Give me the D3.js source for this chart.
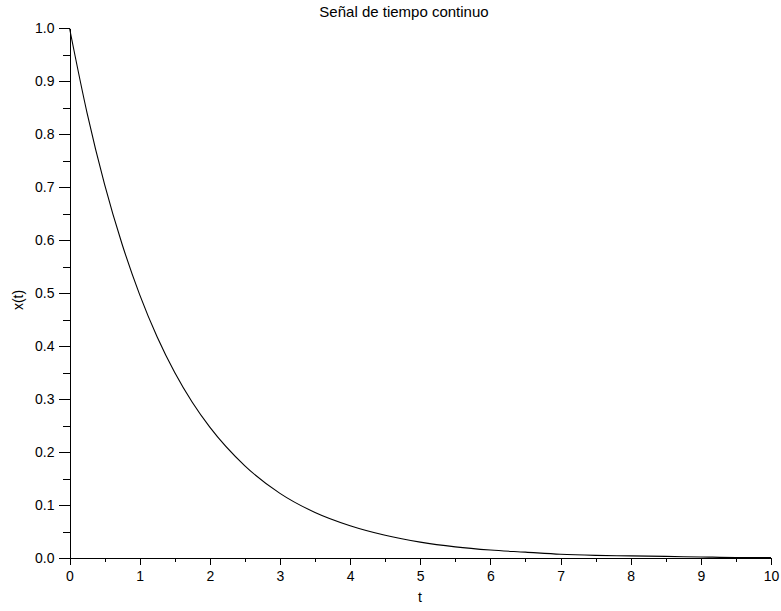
<!DOCTYPE html>
<html lang="es">
<head>
    <meta charset="utf-8">
    <title>Señal de tiempo continuo</title>
    <script type="text/javascript" src="https://d3js.org/d3.v7.min.js"></script>
    <style type="text/css">
        body { margin: 0; background: #fff; }
        text { font-family: "Liberation Sans", Arial, sans-serif; fill: #000; }
        .axis path, .axis line { stroke: #000; shape-rendering: crispEdges; }
        .axis text { font-size: 14px; }
    </style>
</head>
<body>
<script type="text/javascript">
    // values
    var tValues = [0, 0.25, 0.5, 0.75, 1, 1.25, 1.5, 1.75, 2, 2.5, 3, 3.5, 4, 4.5,
        5, 5.5, 6, 6.5, 7, 7.5, 8, 8.5, 9, 9.5, 10];
    var xValues = [1.0, 0.84, 0.705, 0.592, 0.497, 0.417, 0.35, 0.294, 0.247, 0.174,
        0.122, 0.086, 0.061, 0.043, 0.030, 0.021, 0.015, 0.011, 0.007, 0.005,
        0.004, 0.003, 0.002, 0.001, 0.001];
    var xTicks = [0, 1, 2, 3, 4, 5, 6, 7, 8, 9, 10];
    var yTicks = [0, 0.1, 0.2, 0.3, 0.4, 0.5, 0.6, 0.7, 0.8, 0.9, 1.0];

    var w = 781;
    var h = 611;

    var x = d3.scaleLinear().domain([0, 10]).range([69.5, 771]);
    var y = d3.scaleLinear().domain([0, 1]).range([558, 28]);

    var svg = d3.select("body").append("svg")
            .attr("width", w)
            .attr("height", h);

    // minor ticks (halfway between major)
    var xMinor = d3.range(0.5, 10, 1);
    var yMinor = d3.range(0.05, 1, 0.1);

    svg.append("g")
            .attr("class", "axis")
            .attr("transform", "translate(0," + y(0) + ")")
            .call(d3.axisBottom(x).tickValues(xMinor).tickSize(4).tickFormat(""))
            .select(".domain").remove();

    svg.append("g")
            .attr("class", "axis")
            .attr("transform", "translate(" + x(0) + ",0)")
            .call(d3.axisLeft(y).tickValues(yMinor).tickSize(7).tickFormat(""))
            .select(".domain").remove();

    svg.append("g")
            .attr("class", "axis")
            .attr("transform", "translate(0," + y(0) + ")")
            .call(d3.axisBottom(x).tickValues(xTicks).tickSize(7).tickSizeOuter(0)
                .tickFormat(d3.format("d")))
            .selectAll("text").attr("dy", "0.9em");

    svg.append("g")
            .attr("class", "axis")
            .attr("transform", "translate(" + x(0) + ",0)")
            .call(d3.axisLeft(y).tickValues(yTicks).tickSize(11).tickSizeOuter(0)
                .tickFormat(d3.format(".1f")))
            .selectAll("text").attr("x", -15);

    var line = d3.line()
            .x(function (d, i) { return x(tValues[i]); })
            .y(function (d) { return y(d); })
            .curve(d3.curveMonotoneX);

    svg.append("path")
            .datum(xValues)
            .attr("d", line)
            .attr("fill", "none")
            .attr("stroke", "#000")
            .attr("stroke-width", 1.1);

    svg.append("text")
            .attr("x", 404)
            .attr("y", 17)
            .attr("text-anchor", "middle")
            .attr("font-size", "15px")
            .text("Señal de tiempo continuo");

    svg.append("text")
            .attr("x", 420)
            .attr("y", 602)
            .attr("text-anchor", "middle")
            .attr("font-size", "14px")
            .text("t");

    svg.append("text")
            .attr("transform", "translate(23,300) rotate(-90)")
            .attr("text-anchor", "middle")
            .attr("font-size", "14px")
            .text("x(t)");
</script>
</body>
</html>
